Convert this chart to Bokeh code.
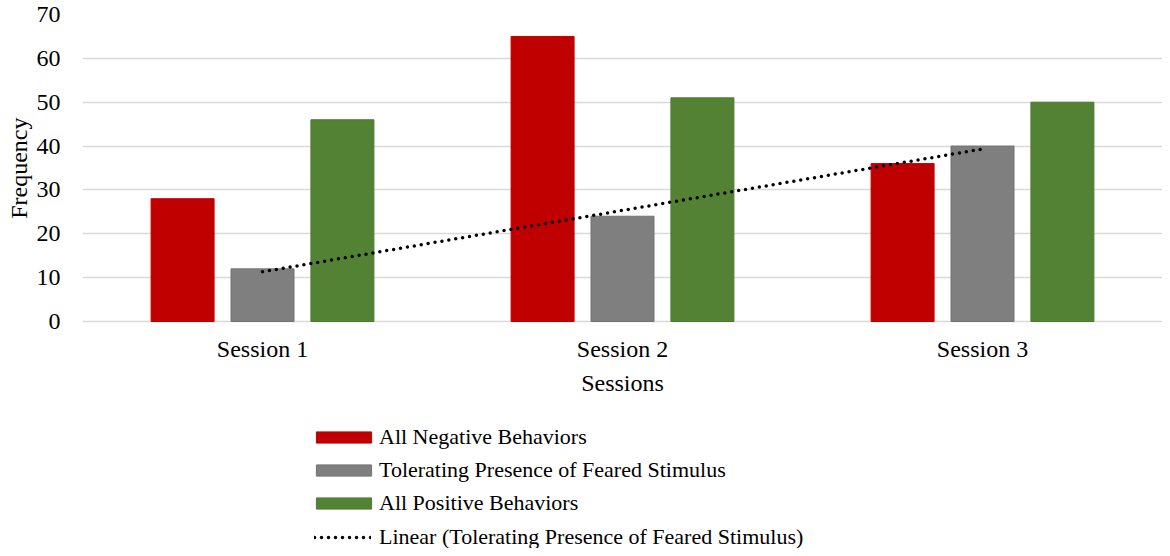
import numpy as np
from bokeh.plotting import figure
from bokeh.models import ColumnDataSource, FactorRange, Legend, LegendItem, Range1d, FixedTicker, Title
from bokeh.transform import dodge
from bokeh.embed import file_html
from bokeh.resources import INLINE

sessions = ["Session 1", "Session 2", "Session 3"]
negative = [28, 65, 36]
tolerating = [12, 24, 40]
positive = [46, 51, 50]
series_names = ["All Negative Behaviors", "Tolerating Presence of Feared Stimulus", "All Positive Behaviors"]
trend_name = "Linear (Tolerating Presence of Feared Stimulus)"
y_ticks = [0, 10, 20, 30, 40, 50, 60, 70]
y_title = "Frequency"
x_title = "Sessions"

# linear trendline of the tolerating series (least squares, like Excel)
xs_idx = np.arange(1, len(sessions) + 1)
slope, intercept = np.polyfit(xs_idx, tolerating, 1)
trend = list(slope * xs_idx + intercept)

src = ColumnDataSource(dict(s=sessions, neg=negative, tol=tolerating, pos=positive, trend=trend))

FONT = "Liberation Serif"

# layout (pixels): frame spans whole lower area so the legend can live inside it
W, H = 1162, 548
TOP, ZERO_Y = 14, 321
px_per_unit = (ZERO_Y - TOP) / 70.0
y_low = -(H - ZERO_Y) / px_per_unit

p = figure(x_range=FactorRange(*sessions, range_padding=0), y_range=Range1d(y_low, 70),
           width=W, height=H, output_backend="svg", toolbar_location=None,
           min_border_left=82, min_border_right=0, min_border_top=TOP, min_border_bottom=0)
p.outline_line_color = None
p.background_fill_color = "white"

bw = 0.175
off = 0.222
r1 = p.vbar(x=dodge("s", -off, range=p.x_range), top="neg", width=bw, source=src,
            fill_color="#C00000", line_color="#C00000", line_width=1)
r2 = p.vbar(x=dodge("s", 0.0, range=p.x_range), top="tol", width=bw, source=src,
            fill_color="#7F7F7F", line_color="#727272", line_width=1)
r3 = p.vbar(x=dodge("s", off, range=p.x_range), top="pos", width=bw, source=src,
            fill_color="#548235", line_color="#4E7A31", line_width=1)
r4 = p.line(x="s", y="trend", source=src, line_color="black", line_width=3.5,
            line_dash="0 7", line_cap="round")

# axes
p.yaxis.ticker = FixedTicker(ticks=y_ticks)
p.yaxis.axis_line_color = None
p.yaxis.major_tick_line_color = None
p.yaxis.minor_tick_line_color = None
p.yaxis.major_label_text_font = FONT
p.yaxis.major_label_text_font_size = "24px"
p.yaxis.major_label_text_color = "black"
p.yaxis.major_label_standoff = 16

# y title as a side-panel title, placed so it is centred on the 0-70 span
ytitle = Title(text=y_title, align="right", offset=103, standoff=4,
               text_font=FONT, text_font_size="24px", text_font_style="normal",
               text_color="black")
p.add_layout(ytitle, "left")

p.xaxis.fixed_location = 0
p.xaxis.axis_line_color = None
p.xaxis.major_tick_line_color = None
p.xaxis.minor_tick_line_color = None
p.xaxis.major_label_text_font = FONT
p.xaxis.major_label_text_font_size = "24px"
p.xaxis.major_label_text_color = "black"
p.xaxis.major_label_standoff = 8
p.xaxis.axis_label = x_title
p.xaxis.axis_label_text_font = FONT
p.xaxis.axis_label_text_font_size = "24px"
p.xaxis.axis_label_text_font_style = "normal"
p.xaxis.axis_label_text_color = "black"
p.xaxis.axis_label_standoff = 5

p.xgrid.grid_line_color = None
p.ygrid.grid_line_color = "#D9D9D9"
p.ygrid.grid_line_width = 1.5

def style_legend(lg):
    lg.label_text_font = FONT
    lg.label_text_font_size = "22px"
    lg.label_text_color = "black"
    lg.border_line_color = None
    lg.background_fill_alpha = 0
    lg.padding = 0
    lg.margin = 0
    lg.label_height = 22
    lg.spacing = 7

bar_legend = Legend(items=[LegendItem(label=series_names[0], renderers=[r1]),
                           LegendItem(label=series_names[1], renderers=[r2]),
                           LegendItem(label=series_names[2], renderers=[r3])],
                    location=(227, 32))
style_legend(bar_legend)
bar_legend.glyph_width = 69
bar_legend.glyph_height = 14
bar_legend.label_standoff = 1

line_legend = Legend(items=[LegendItem(label=trend_name, renderers=[r4])],
                     location=(232, -2))
style_legend(line_legend)
line_legend.glyph_width = 57
line_legend.glyph_height = 22
line_legend.label_standoff = 8

p.add_layout(bar_legend, "center")
p.add_layout(line_legend, "center")

open("out.html", "w").write(file_html(p, INLINE))
